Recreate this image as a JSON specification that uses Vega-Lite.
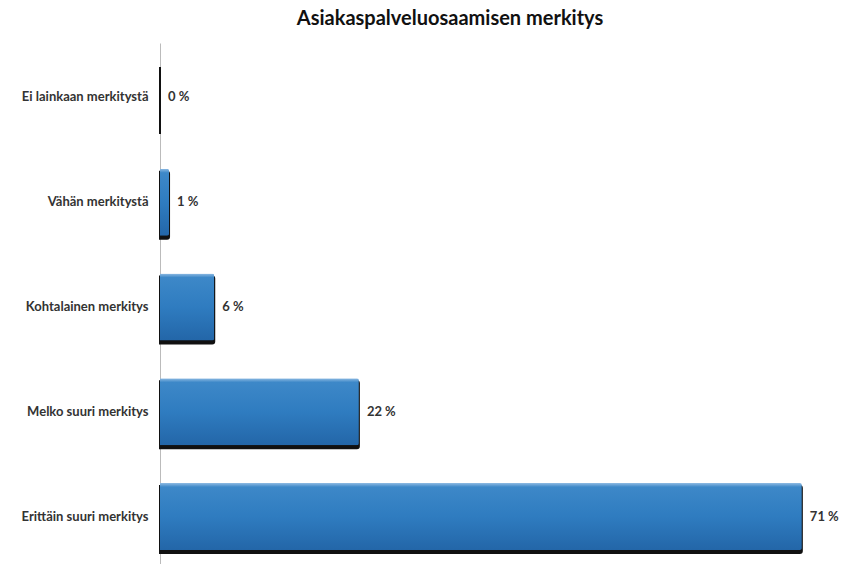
{
  "$schema": "https://vega.github.io/schema/vega-lite/v6.json",
  "width": 678,
  "height": 528,
  "autosize": {"type": "none"},
  "padding": {"left": 160, "top": 43, "right": 4, "bottom": 0},
  "background": "white",
  "view": {"stroke": null},
  "title": {
    "text": "Asiakaspalveluosaamisen merkitys",
    "font": "Lato",
    "fontSize": 20,
    "fontWeight": "bold",
    "color": "#111111",
    "anchor": "middle",
    "frame": "group",
    "dx": -49,
    "offset": 14
  },
  "data": {
    "values": [
      {"vastaus": "Ei lainkaan merkitystä", "osuus": 0},
      {"vastaus": "Vähän merkitystä", "osuus": 1},
      {"vastaus": "Kohtalainen merkitys", "osuus": 6},
      {"vastaus": "Melko suuri merkitys", "osuus": 22},
      {"vastaus": "Erittäin suuri merkitys", "osuus": 71}
    ]
  },
  "encoding": {
    "y": {
      "field": "vastaus",
      "type": "nominal",
      "sort": null,
      "scale": {"paddingInner": 0.36, "paddingOuter": 0.2},
      "axis": {
        "title": null,
        "ticks": false,
        "domainColor": "#bbbbbb",
        "domainWidth": 1,
        "labelFont": "Lato",
        "labelFontSize": 13,
        "labelFontWeight": "bold",
        "labelColor": "#333333",
        "labelPadding": 12
      }
    },
    "x": {
      "field": "osuus",
      "type": "quantitative",
      "scale": {"domain": [0, 75]},
      "axis": null
    }
  },
  "layer": [
    {
      "mark": {"type": "bar", "color": "#111111", "stroke": "#111111", "strokeWidth": 2, "xOffset": 2, "yOffset": 3, "cornerRadiusEnd": 2}
    },
    {
      "transform": [{"filter": "datum.osuus > 0"}],
      "mark": {
        "type": "bar",
        "cornerRadiusEnd": 2,
        "color": {
          "gradient": "linear",
          "x1": 0, "y1": 0, "x2": 0, "y2": 1,
          "stops": [
            {"offset": 0, "color": "#8fbbe3"},
            {"offset": 0.06, "color": "#3d88c8"},
            {"offset": 0.5, "color": "#2f7cc0"},
            {"offset": 1, "color": "#2366a8"}
          ]
        }
      }
    },
    {
      "mark": {"type": "text", "align": "left", "dx": 8, "font": "Lato", "fontSize": 13, "fontWeight": "bold", "color": "#333333", "text": {"expr": "format(datum.osuus, '.0f') + ' %'"}}
    }
  ]
}
